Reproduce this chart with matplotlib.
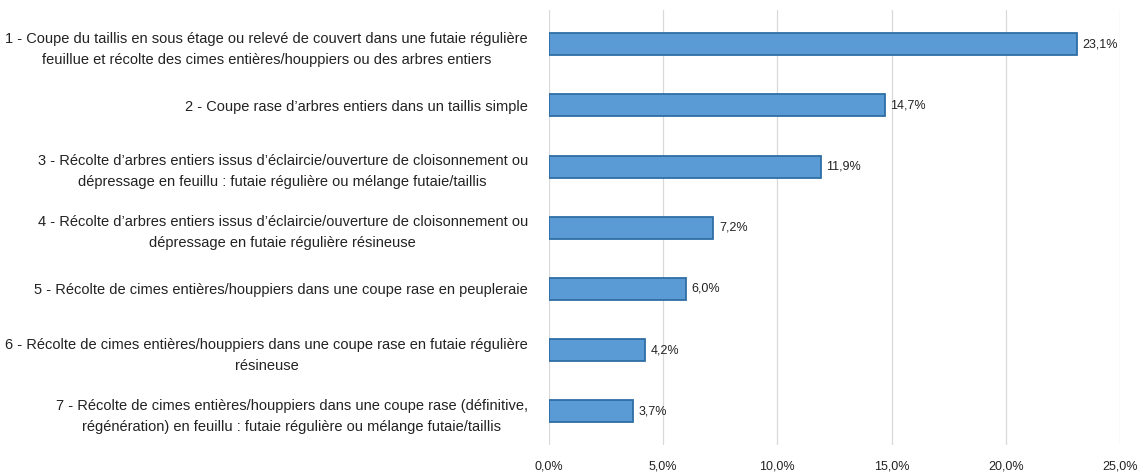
import matplotlib.pyplot as plt
from matplotlib.ticker import FuncFormatter

labels = [
    "1 - Coupe du taillis en sous étage ou relevé de couvert dans une futaie régulière\nfeuillue et récolte des cimes entières/houppiers ou des arbres entiers",
    "2 - Coupe rase d’arbres entiers dans un taillis simple",
    "3 - Récolte d’arbres entiers issus d’éclaircie/ouverture de cloisonnement ou\ndépressage en feuillu : futaie régulière ou mélange futaie/taillis",
    "4 - Récolte d’arbres entiers issus d’éclaircie/ouverture de cloisonnement ou\ndépressage en futaie régulière résineuse",
    "5 - Récolte de cimes entières/houppiers dans une coupe rase en peupleraie",
    "6 - Récolte de cimes entières/houppiers dans une coupe rase en futaie régulière\nrésineuse",
    "7 - Récolte de cimes entières/houppiers dans une coupe rase (définitive,\nrégénération) en feuillu : futaie régulière ou mélange futaie/taillis",
]
values = [23.1, 14.7, 11.9, 7.2, 6.0, 4.2, 3.7]
xticks = [0, 5, 10, 15, 20, 25]

plt.rcParams['font.family'] = ['Liberation Sans', 'DejaVu Sans']

fig = plt.figure(figsize=(11.43, 4.75), dpi=100)
ax = fig.add_axes([0.48, 0.063, 0.5, 0.915])

pos = list(range(len(values)))
ax.barh(pos, values, height=0.36, color='#5B9BD5', edgecolor='#2F6EA5', linewidth=1.3, zorder=3)
for p, v in zip(pos, values):
    ax.text(v + 0.25, p, f"{v:.1f}%".replace('.', ','), va='center', ha='left', fontsize=9, color='#222222')

ax.set_yticks(pos)
ax.set_yticklabels(labels, fontsize=10.5, multialignment='center', color='#222222', linespacing=1.65)
ax.invert_yaxis()
ax.set_ylim(6.55, -0.55)
ax.set_xlim(0, 25)
ax.set_xticks(xticks)
ax.xaxis.set_major_formatter(FuncFormatter(lambda x, _: f"{x:.1f}%".replace('.', ',')))
ax.tick_params(axis='x', labelsize=9, colors='#222222', length=0, pad=11)
ax.tick_params(axis='y', length=0, pad=15)
ax.grid(axis='x', color='#D9D9D9', linewidth=0.9, zorder=0)
for s in ax.spines.values():
    s.set_visible(False)

plt.savefig('out.png')
plt.close()
